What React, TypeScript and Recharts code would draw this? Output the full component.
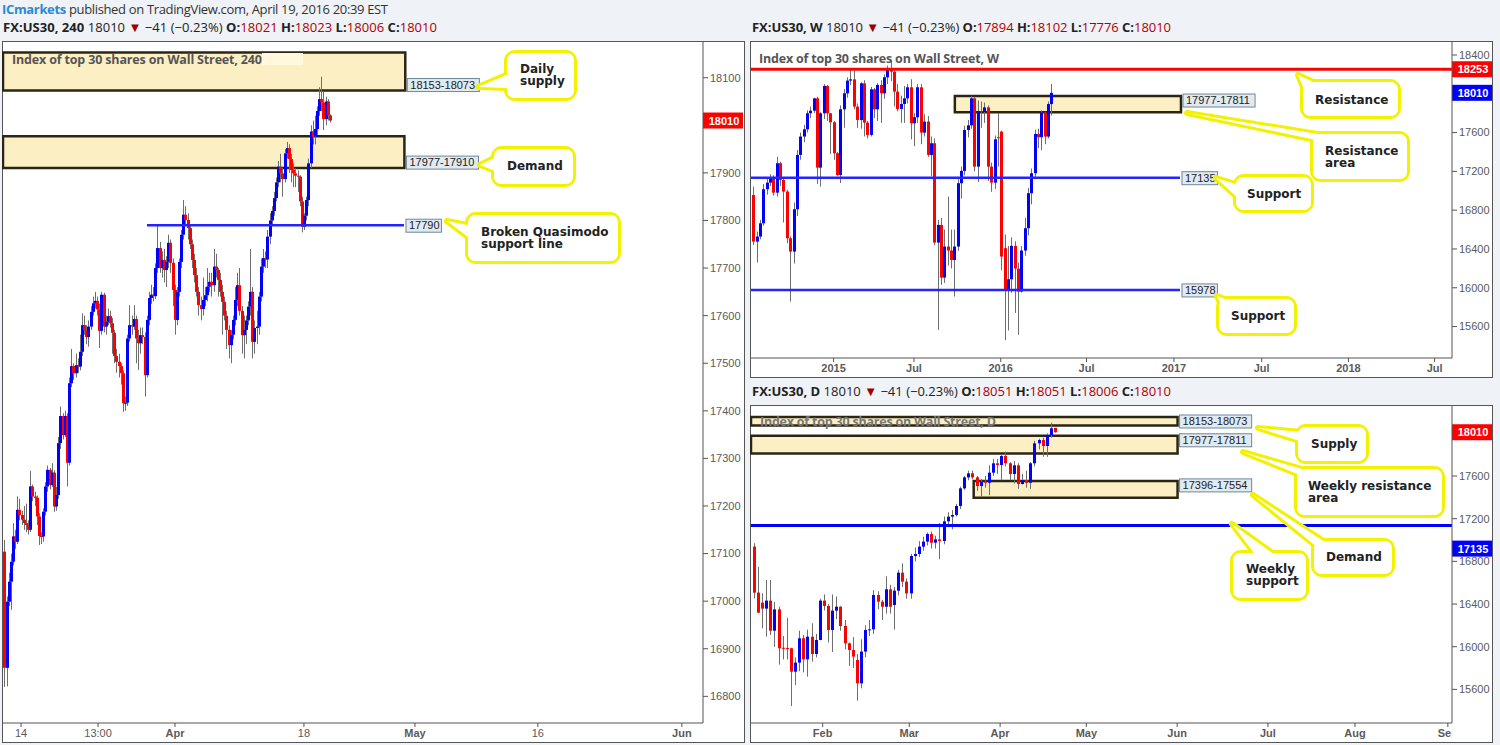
import React from 'react';
import { ComposedChart, Bar, XAxis, YAxis, ReferenceArea, ReferenceLine } from 'recharts';

// candles are [open, high, low, close]
const h4Candles = [
  [17104, 17129, 16820, 16860], [16860, 17010, 16821, 16999], [16999, 17060, 16990, 17041], [17041, 17100, 16982, 17083],
  [17083, 17164, 17075, 17136], [17136, 17150, 17110, 17125], [17125, 17220, 17120, 17192], [17192, 17215, 17170, 17181],
  [17181, 17190, 17160, 17171], [17171, 17200, 17150, 17164], [17164, 17205, 17145, 17160], [17160, 17170, 17140, 17150],
  [17150, 17274, 17145, 17241], [17241, 17245, 17210, 17220], [17220, 17230, 17200, 17217], [17217, 17222, 17160, 17178],
  [17178, 17185, 17118, 17137], [17137, 17145, 17120, 17136], [17136, 17195, 17125, 17188], [17188, 17250, 17180, 17241],
  [17241, 17285, 17230, 17276], [17276, 17280, 17235, 17244], [17244, 17290, 17240, 17270], [17270, 17275, 17188, 17199],
  [17199, 17240, 17190, 17223], [17223, 17345, 17215, 17332], [17332, 17409, 17320, 17389], [17389, 17395, 17340, 17349],
  [17349, 17400, 17345, 17389], [17389, 17395, 17241, 17291], [17291, 17470, 17285, 17458], [17458, 17530, 17450, 17494],
  [17494, 17500, 17465, 17479], [17479, 17520, 17470, 17496], [17496, 17510, 17480, 17493], [17493, 17560, 17485, 17524],
  [17524, 17605, 17515, 17580], [17580, 17600, 17560, 17570], [17570, 17580, 17540, 17555], [17555, 17590, 17535, 17577],
  [17577, 17620, 17570, 17608], [17608, 17640, 17600, 17626], [17626, 17650, 17615, 17631], [17631, 17640, 17600, 17613],
  [17613, 17625, 17532, 17568], [17568, 17650, 17560, 17644], [17644, 17648, 17565, 17577], [17577, 17600, 17560, 17587],
  [17587, 17615, 17580, 17599], [17599, 17610, 17575, 17584], [17584, 17595, 17520, 17564], [17564, 17570, 17500, 17515],
  [17515, 17530, 17480, 17503], [17503, 17520, 17470, 17494], [17494, 17500, 17455, 17479], [17479, 17485, 17398, 17416],
  [17416, 17430, 17400, 17417], [17417, 17560, 17410, 17552], [17552, 17622, 17545, 17580], [17580, 17600, 17560, 17577],
  [17577, 17622, 17570, 17593], [17593, 17600, 17500, 17552], [17552, 17570, 17486, 17542], [17542, 17575, 17520, 17559],
  [17559, 17575, 17540, 17555], [17555, 17565, 17430, 17475], [17475, 17600, 17470, 17591], [17591, 17650, 17580, 17637],
  [17637, 17665, 17625, 17644], [17644, 17660, 17630, 17641], [17641, 17710, 17635, 17700], [17700, 17790, 17690, 17742],
  [17742, 17755, 17690, 17700], [17700, 17735, 17680, 17717], [17717, 17740, 17670, 17696], [17696, 17725, 17660, 17713],
  [17713, 17770, 17700, 17753], [17753, 17760, 17690, 17711], [17711, 17720, 17620, 17654], [17654, 17665, 17560, 17591],
  [17591, 17660, 17580, 17650], [17650, 17720, 17640, 17713], [17713, 17780, 17700, 17770], [17770, 17843, 17760, 17812],
  [17812, 17830, 17790, 17801], [17801, 17815, 17760, 17784], [17784, 17790, 17740, 17750], [17750, 17760, 17700, 17717],
  [17717, 17730, 17670, 17685], [17685, 17700, 17640, 17650], [17650, 17660, 17600, 17622], [17622, 17640, 17590, 17614],
  [17614, 17680, 17600, 17633], [17633, 17660, 17620, 17643], [17643, 17700, 17630, 17661], [17661, 17690, 17650, 17671],
  [17671, 17690, 17640, 17664], [17664, 17740, 17650, 17703], [17703, 17730, 17680, 17696], [17696, 17700, 17640, 17675],
  [17675, 17690, 17640, 17650], [17650, 17665, 17560, 17629], [17629, 17640, 17590, 17600], [17600, 17610, 17530, 17570],
  [17570, 17580, 17510, 17538], [17538, 17570, 17500, 17560], [17560, 17600, 17550, 17591], [17591, 17660, 17580, 17633],
  [17633, 17690, 17620, 17664], [17664, 17700, 17600, 17610], [17610, 17620, 17520, 17559], [17559, 17600, 17510, 17570],
  [17570, 17600, 17540, 17590], [17590, 17630, 17580, 17619], [17619, 17740, 17600, 17650], [17650, 17660, 17510, 17545],
  [17545, 17590, 17520, 17574], [17574, 17610, 17540, 17577], [17577, 17650, 17560, 17640], [17640, 17720, 17630, 17703],
  [17703, 17740, 17690, 17721], [17721, 17735, 17700, 17718], [17718, 17780, 17700, 17766], [17766, 17815, 17750, 17800],
  [17800, 17830, 17790, 17820], [17820, 17860, 17810, 17847], [17847, 17890, 17840, 17880], [17880, 17925, 17870, 17913],
  [17913, 17940, 17880, 17899], [17899, 17910, 17850, 17887], [17887, 17950, 17880, 17941], [17941, 17965, 17930, 17952],
  [17952, 17960, 17900, 17929], [17929, 17940, 17880, 17906], [17906, 17920, 17870, 17899], [17899, 17910, 17870, 17894],
  [17894, 17905, 17860, 17892], [17892, 17895, 17830, 17840], [17840, 17850, 17775, 17787], [17787, 17815, 17780, 17810],
  [17810, 17850, 17800, 17843], [17843, 17930, 17830, 17920], [17920, 18000, 17910, 17987], [17987, 18010, 17960, 17976],
  [17976, 18020, 17960, 17992], [17992, 18040, 17980, 18030], [18030, 18080, 18020, 18055], [18055, 18102, 18030, 18048],
  [18048, 18070, 17990, 18013], [18013, 18060, 18000, 18050], [18050, 18055, 18010, 18021], [18021, 18023, 18006, 18010],
];

const weeklyCandles = [
  [16957, 17043, 16442, 16476], [16476, 16579, 16260, 16528], [16528, 16700, 16500, 16665], [16665, 17070, 16640, 17016],
  [17016, 17130, 16960, 17084], [17084, 17170, 17050, 17139], [17139, 17160, 16950, 16981], [16981, 17350, 16940, 17284],
  [17284, 17300, 17050, 17112], [17112, 17140, 16672, 16992], [16992, 17010, 16460, 16511], [16511, 16530, 15858, 16373],
  [16373, 16880, 16250, 16810], [16810, 17420, 16740, 17370], [17370, 17600, 17320, 17559], [17559, 17680, 17500, 17634],
  [17634, 17830, 17600, 17799], [17799, 17870, 17750, 17826], [17826, 17960, 17800, 17953], [17953, 17970, 17070, 17239],
  [17239, 17810, 17043, 17799], [17799, 18100, 17740, 18081], [18081, 18090, 17720, 17799], [17799, 17800, 17380, 17706],
  [17706, 17720, 17320, 17387], [17387, 17400, 17150, 17163], [17163, 17880, 17080, 17840], [17840, 18050, 17650, 18005],
  [18005, 18170, 17960, 18136], [18136, 18250, 18090, 18149], [18149, 18240, 17840, 17868], [17868, 17900, 17650, 17730],
  [17730, 18120, 17640, 18108], [18108, 18140, 17560, 17703], [17703, 17720, 17540, 17576], [17576, 18070, 17560, 18046],
  [18046, 18060, 17750, 17840], [17840, 18110, 17720, 18091], [18091, 18140, 17700, 18005], [18005, 18200, 17950, 18170],
  [18170, 18290, 18100, 18263], [18263, 18350, 18130, 18228], [18228, 18240, 17870, 18022], [18022, 18100, 17820, 17844],
  [17844, 17980, 17700, 17895], [17895, 18080, 17700, 17953], [17953, 18100, 17900, 18067], [18067, 18150, 17530, 17696],
  [17696, 17800, 17460, 17758], [17758, 18100, 17700, 18067], [18067, 18100, 17480, 17600], [17600, 17790, 17560, 17713],
  [17713, 17770, 17350, 17370], [17370, 17560, 17150, 17490], [17490, 17540, 16440, 16466], [16466, 16700, 15566, 16648],
  [16648, 16720, 16030, 16105], [16105, 16600, 16050, 16425], [16425, 16940, 16230, 16384], [16384, 16600, 16200, 16287],
  [16287, 16600, 15910, 16425], [16425, 17120, 16380, 17078], [17078, 17250, 16920, 17205], [17205, 17670, 17160, 17627],
  [17627, 17730, 17550, 17675], [17675, 17980, 17640, 17953], [17953, 17970, 17200, 17249], [17249, 17930, 17090, 17823],
  [17823, 17920, 17650, 17813], [17813, 17910, 17700, 17860], [17860, 17880, 17100, 17249], [17249, 17290, 16990, 17084],
  [17084, 17570, 17020, 17531], [17552, 17800, 17250, 17548], [17610, 17620, 16180, 16322], [16408, 16550, 15460, 15985],
  [15985, 16430, 15560, 16088], [16088, 16520, 15950, 16432], [16432, 16480, 15740, 16198], [16198, 16260, 15515, 15961],
  [15961, 16430, 15950, 16384], [16384, 16720, 16330, 16614], [16614, 17030, 16540, 16975], [16975, 17230, 16860, 17181],
  [17181, 17630, 17130, 17586], [17586, 17640, 17440, 17552], [17552, 17830, 17420, 17806], [17806, 17810, 17480, 17559],
  [17559, 17920, 17540, 17894], [17894, 18102, 17776, 18010],
];

const dailyCandles = [
  [16938, 16970, 16453, 16507], [16507, 16750, 16313, 16319], [16413, 16500, 16172, 16357], [16357, 16625, 16094, 16432],
  [16432, 16625, 16110, 16150], [16150, 16420, 16000, 16350], [16350, 16375, 15832, 15985], [15990, 16100, 15880, 15982],
  [15988, 16270, 15880, 15980], [15985, 15990, 15444, 15766], [15766, 15900, 15640, 15851], [15851, 16150, 15770, 16079],
  [16079, 16110, 15760, 15882], [15882, 16160, 15720, 16094], [16094, 16220, 15860, 15932], [15932, 16120, 15900, 16063],
  [16063, 16450, 16060, 16432], [16432, 16490, 16340, 16382], [16382, 16400, 16040, 16157], [16157, 16490, 15950, 16338],
  [16338, 16470, 16260, 16375], [16375, 16380, 16150, 16194], [16194, 16250, 15975, 16032], [16032, 16040, 15820, 15969],
  [15969, 16090, 15800, 15907], [15876, 15930, 15494, 15657], [15657, 16070, 15610, 15954], [15954, 16200, 15900, 16157],
  [16157, 16250, 16100, 16163], [16163, 16530, 16120, 16485], [16485, 16520, 16350, 16422], [16422, 16440, 16250, 16375],
  [16375, 16660, 16310, 16538], [16538, 16580, 16310, 16375], [16391, 16560, 16160, 16525], [16525, 16720, 16480, 16694],
  [16694, 16780, 16560, 16610], [16610, 16640, 16450, 16500], [16500, 16870, 16450, 16850], [16850, 16930, 16800, 16869],
  [16869, 16990, 16840, 16938], [16938, 17030, 16900, 16985], [16985, 17070, 16950, 17056], [17056, 17080, 16920, 16975],
  [16975, 17040, 16920, 17006], [17006, 17160, 16820, 16991], [16991, 17220, 16960, 17175], [17175, 17260, 17130, 17219],
  [17219, 17280, 17100, 17235], [17235, 17340, 17220, 17319], [17319, 17500, 17290, 17484], [17484, 17600, 17470, 17587],
  [17587, 17650, 17560, 17625], [17625, 17650, 17570, 17587], [17587, 17600, 17460, 17506], [17506, 17570, 17400, 17547],
  [17547, 17600, 17490, 17537], [17537, 17700, 17420, 17631], [17631, 17760, 17600, 17719], [17719, 17760, 17620, 17703],
  [17703, 17800, 17560, 17787], [17787, 17830, 17690, 17719], [17719, 17730, 17560, 17619], [17619, 17740, 17530, 17700],
  [17700, 17720, 17480, 17525], [17525, 17620, 17520, 17562], [17562, 17650, 17490, 17537], [17537, 17730, 17480, 17719],
  [17719, 17930, 17690, 17906], [17906, 17950, 17850, 17937], [17937, 17960, 17780, 17881], [17881, 18000, 17780, 17984],
  [17984, 18100, 17960, 18047], [18051, 18051, 18006, 18010],
];

// time ticks are in bar-index units
const h4TimeTicks = [7.7, 43.4, 79.1, 138.9, 190.4, 247.4, 314.2];
const h4TimeLabels = ['14', '13:00', 'Apr', '18', 'May', '16', 'Jun'];
const h4PriceTicks = [16800, 16900, 17000, 17100, 17200, 17300, 17400, 17500, 17600, 17700, 17800, 17900, 18100];

const weeklyTimeTicks = [23.9, 47.9, 73.8, 99.4, 125.5, 151.7, 177.6, 203.3];
const weeklyTimeLabels = ['2015', 'Jul', '2016', 'Jul', '2017', 'Jul', '2018', 'Jul'];
const weeklyPriceTicks = [15600, 16000, 16400, 16800, 17200, 17600, 18400];

const dailyTimeTicks = [16.8, 37.8, 59.8, 80.7, 102.7, 124.7, 145.8, 168.3];
const dailyTimeLabels = ['Feb', 'Mar', 'Apr', 'May', 'Jun', 'Jul', 'Aug', 'Sep'];
const dailyPriceTicks = [15600, 16000, 16400, 16800, 17200, 17600];

const h4Zones = [
  { hi: 18153, lo: 18073, from: -0.69, to: 185.9, tag: '18153-18073' },
  { hi: 17977, lo: 17910, from: -0.69, to: 185.5, tag: '17977-17910' },
];
const h4Levels = [{ value: 17790, from: 66.1, to: 185.3, tag: '17790' }];

const weeklyZones = [{ hi: 17977, lo: 17811, from: 60.1, to: 127.6, tag: '17977-17811' }];
const weeklyLevels = [
  { value: 17135, from: -0.75, to: 127.3, tag: '17135' },
  { value: 15978, from: -0.75, to: 127.3, tag: '15978' },
];

const dailyZones = [
  { hi: 18153, lo: 18073, from: -0.56, to: 102.8, tag: '18153-18073' },
  { hi: 17977, lo: 17811, from: -0.56, to: 102.8, tag: '17977-17811' },
  { hi: 17554, lo: 17396, from: 53.4, to: 102.8, tag: '17396-17554' },
];

const FONT_AXIS = '"Liberation Sans", Arial, sans-serif';
const FONT_UI = '"Open Sans", "Liberation Sans", sans-serif';
const FONT_NOTE = '"DejaVu Sans", Verdana, sans-serif';

function CandleShape(props: any) {
  const { x, y, width, height, payload, bodyW } = props;
  if (x == null || !payload) return null;
  const top = Math.min(y, y + height);
  const span = Math.abs(height);
  const { o, h, l, c } = payload;
  const range = h - l || 1;
  const py = (v: number) => top + ((h - v) / range) * span;
  const cx = Math.round(x + width / 2) + 0.5;
  const b1 = py(Math.max(o, c));
  const b2 = py(Math.min(o, c));
  return (
    <g>
      <line x1={cx} x2={cx} y1={top} y2={top + span} stroke="#6e6e6e" strokeWidth={1} />
      <rect x={cx - bodyW / 2} y={b1} width={bodyW} height={Math.max(b2 - b1, 1)} fill={c >= o ? '#0000ff' : '#ff0000'} />
    </g>
  );
}

function TimeTick(props: any) {
  const { x, y, payload, ticks, labels, clipAt } = props;
  const k = ticks.indexOf(payload.value);
  const label = k >= 0 ? labels[k] : '';
  const bold = /^[A-Z]|^\d{4}$/.test(label);
  const t = (
    <text x={x} y={y} dy="0.71em" textAnchor="middle" fontSize={11} fontFamily={FONT_AXIS}
      fontWeight={bold ? 'bold' : 'normal'} fill="#5a5a5a">{label}</text>
  );
  if (clipAt == null) return t;
  return <svg x={0} y={0} width={clipAt} height={2000} overflow="hidden">{t}</svg>;
}

function Tag({ x, y, text }: any) {
  const w = text.length * 6.1 + 5;
  return (
    <g>
      <rect x={x} y={y} width={w} height={13} fill="#e1eaf1" stroke="#6f8799" strokeWidth={1} />
      <text x={x + 3} y={y + 10} fontSize={11} fontFamily={FONT_AXIS} fill="#222">{text}</text>
    </g>
  );
}

function Badge({ viewBox, text, bg, shift = 0 }: any) {
  if (!viewBox) return null;
  const x = viewBox.x + viewBox.width;
  const y = viewBox.y + shift;
  return (
    <g>
      <rect x={x} y={y - 8} width={40} height={16} fill={bg} />
      <text x={x + 21} y={y + 4} textAnchor="middle" fontSize={11} fontWeight="bold" fontFamily={FONT_AXIS} fill="#fff">{text}</text>
    </g>
  );
}

function CandleChart({ cfg }: any) {
  const data = cfg.candles.map(([o, h, l, c]: number[], i: number) => ({ i, o, h, l, c }));
  return (
    <div style={{ position: 'absolute', left: cfg.left, top: cfg.top, width: cfg.width, height: cfg.height }}>
      <ComposedChart width={cfg.width} height={cfg.height} data={data} margin={{ top: 1, right: 1, bottom: 0, left: 1 }}>
        <XAxis type="number" dataKey="i" domain={cfg.xDomain} ticks={cfg.xTicks} interval={0} allowDataOverflow
          height={19} tickSize={4} tickMargin={2} axisLine={{ stroke: '#555' }} tickLine={{ stroke: '#555' }}
          tick={(p: any) => <TimeTick {...p} ticks={cfg.xTicks} labels={cfg.xLabels} clipAt={cfg.clipAt} />} />
        <YAxis orientation="right" type="number" domain={cfg.yDomain} ticks={cfg.yTicks} interval={0} allowDataOverflow
          width={cfg.yWidth} tickSize={5} tickMargin={2} axisLine={{ stroke: '#555' }} tickLine={{ stroke: '#555' }}
          tick={{ fontSize: 11, fill: '#5a5a5a', fontFamily: FONT_AXIS }} />
        {cfg.zones.map((z: any) => (
          <ReferenceArea key={z.tag} x1={z.from} x2={z.to} y1={z.lo} y2={z.hi} ifOverflow="visible"
            fill="#fdefc4" fillOpacity={1} stroke="#2b2614" strokeWidth={2.5}
            label={(p: any) => p.viewBox ? (
              <Tag x={p.viewBox.x + p.viewBox.width + 2}
                y={cfg.tagBottom ? p.viewBox.y + p.viewBox.height - 12 : p.viewBox.y - 2} text={z.tag} />
            ) : null} />
        ))}
        {cfg.levels.map((lv: any) => (
          <ReferenceLine key={lv.tag} segment={[{ x: lv.from, y: lv.value }, { x: lv.to, y: lv.value }]}
            ifOverflow="visible" stroke="#2424ff" strokeWidth={2.5}
            label={(p: any) => p.viewBox ? <Tag x={p.viewBox.x + p.viewBox.width + 2} y={p.viewBox.y - 6} text={lv.tag} /> : null} />
        ))}
        {cfg.fullLines.map((fl: any) => (
          <ReferenceLine key={'f' + fl.value} y={fl.value} stroke={fl.color} strokeWidth={3} ifOverflow="visible"
            label={(p: any) => <Badge viewBox={p.viewBox} text={String(fl.value)} bg={fl.color} shift={fl.shift || 0} />} />
        ))}
        <Bar dataKey={(d: any) => [d.l, d.h]} barSize={cfg.bodyW} isAnimationActive={false}
          shape={(p: any) => <CandleShape {...p} bodyW={cfg.bodyW} />} />
        {cfg.badges.map((b: any) => (
          <ReferenceLine key={'b' + b.value + b.color} y={b.value} stroke="none" ifOverflow="visible"
            label={(p: any) => <Badge viewBox={p.viewBox} text={String(b.value)} bg={b.color} />} />
        ))}
      </ComposedChart>
    </div>
  );
}

const panels = [
  {
    left: 2, top: 41, width: 743, height: 701, yWidth: 41, bodyW: 3, tagBottom: true,
    candles: h4Candles, xDomain: [-0.69, 324], yDomain: [16744, 18175],
    xTicks: h4TimeTicks, xLabels: h4TimeLabels, yTicks: h4PriceTicks,
    zones: h4Zones, levels: h4Levels, fullLines: [], badges: [{ value: 18010, color: '#ff0000' }],
  },
  {
    left: 750, top: 41, width: 743, height: 336, yWidth: 40, bodyW: 3, tagBottom: false,
    candles: weeklyCandles, xDomain: [-0.75, 208.5], yDomain: [15276, 18534],
    xTicks: weeklyTimeTicks, xLabels: weeklyTimeLabels, yTicks: weeklyPriceTicks,
    zones: weeklyZones, levels: weeklyLevels,
    fullLines: [{ value: 18253, color: '#ff0000' }], badges: [{ value: 18010, color: '#0000ff' }],
  },
  {
    left: 750, top: 405, width: 743, height: 337, yWidth: 40, bodyW: 3, tagBottom: false, clipAt: 702,
    candles: dailyCandles, xDomain: [-0.56, 169.3], yDomain: [15285, 18256],
    xTicks: dailyTimeTicks, xLabels: dailyTimeLabels, yTicks: dailyPriceTicks,
    zones: dailyZones, levels: [],
    fullLines: [{ value: 17135, color: '#0000ff', shift: 23 }], badges: [{ value: 18010, color: '#ff0000' }],
  },
];

const callouts = [
  { x: 507, y: 53, w: 67, h: 45, tip: [478, 87], base: [[511, 73], [511, 88]], lines: ['Daily', 'supply'], tx: 520, ty: 73 },
  { x: 494, y: 149, w: 79, h: 35, tip: [480, 165], base: [[498, 156], [498, 172]], lines: ['Demand'], tx: 507, ty: 170 },
  { x: 468, y: 215, w: 150, h: 46, tip: [447, 221], base: [[472, 226], [472, 240]], lines: ['Broken Quasimodo', 'support line'], tx: 481, ty: 235.5 },
  { x: 1303, y: 82, w: 95, h: 34, tip: [1298, 75], base: [[1307, 96], [1320, 85]], lines: ['Resistance'], tx: 1315, ty: 103.5 },
  { x: 1313, y: 134, w: 94, h: 45, tip: [1187, 113], base: [[1316, 140], [1330, 136]], lines: ['Resistance', 'area'], tx: 1325, ty: 154.5 },
  { x: 1236, y: 177, w: 75, h: 33, tip: [1216, 178], base: [[1239, 185], [1239, 199]], lines: ['Support'], tx: 1247, ty: 197.5 },
  { x: 1219, y: 299, w: 75, h: 34, tip: [1217, 296], base: [[1222, 307], [1233, 302]], lines: ['Support'], tx: 1231, ty: 320 },
  { x: 1298, y: 427, w: 68, h: 34, tip: [1258, 428], base: [[1301, 432], [1303, 442]], lines: ['Supply'], tx: 1311, ty: 447.5 },
  { x: 1297, y: 469, w: 145, h: 46, tip: [1243, 452], base: [[1300, 475], [1312, 472]], lines: ['Weekly resistance', 'area'], tx: 1308, ty: 489.5 },
  { x: 1314, y: 541, w: 78, h: 33, tip: [1253, 495], base: [[1317, 547], [1328, 544]], lines: ['Demand'], tx: 1326, ty: 561 },
  { x: 1233, y: 553, w: 73, h: 45, tip: [1232, 524], base: [[1257, 557], [1278, 557]], lines: ['Weekly', 'support'], tx: 1246, ty: 573 },
];

function Callout({ c }: any) {
  const pts = [c.tip, c.base[0], c.base[1]].map((p: number[]) => p.join(',')).join(' ');
  return (
    <g>
      <polygon points={pts} fill="#ffff00" stroke="#f2f200" strokeWidth={6} strokeLinejoin="round" />
      <rect x={c.x} y={c.y} width={c.w} height={c.h} rx={8} fill="#ffff00" stroke="#f2f200" strokeWidth={6} />
      <polygon points={pts} fill="#fff" />
      <rect x={c.x} y={c.y} width={c.w} height={c.h} rx={7} fill="#fff" />
      {c.lines.map((t: string, i: number) => (
        <text key={t} x={c.tx} y={c.ty + i * 12} fontSize={12} fontWeight="bold" fontFamily={FONT_NOTE} fill="#222">{t}</text>
      ))}
    </g>
  );
}

function Quote({ x, y, width, name, o, h, l, c }: any) {
  return (
    <text x={x} y={y} fontSize={13} fontFamily={FONT_UI} fill="#222" textLength={width} lengthAdjust="spacing">
      <tspan fontWeight="bold">{name}</tspan>
      <tspan> 18010 </tspan>
      <tspan fill="#a00000">▼</tspan>
      <tspan> −41 (−0.23%) </tspan>
      <tspan fontWeight="bold">O:</tspan><tspan fill="#b00000">{o} </tspan>
      <tspan fontWeight="bold">H:</tspan><tspan fill="#b00000">{h} </tspan>
      <tspan fontWeight="bold">L:</tspan><tspan fill="#b00000">{l} </tspan>
      <tspan fontWeight="bold">C:</tspan><tspan fill="#b00000">{c}</tspan>
    </text>
  );
}

export default function App() {
  return (
    <div style={{ position: 'absolute', left: 0, top: 0, width: 1500, height: 745, background: '#eff2f6', overflow: 'hidden' }}>
      {panels.map((p, i) => (
        <div key={'bg' + i} style={{ position: 'absolute', left: p.left, top: p.top, width: p.width, height: p.height + 1,
          background: '#fff', border: '1px solid #555', boxSizing: 'border-box' }} />
      ))}
      {panels.map((p, i) => <CandleChart key={i} cfg={p} />)}
      <svg width={1500} height={745} style={{ position: 'absolute', left: 0, top: 0, pointerEvents: 'none' }}>
        <text x={2} y={14} fontSize={13} fontFamily={FONT_UI} fill="#333" textLength={386} lengthAdjust="spacing">
          <tspan fill="#2a8ad0" fontWeight="bold">ICmarkets</tspan>
          <tspan> published on TradingView.com, April 19, 2016 20:39 EST</tspan>
        </text>
        <Quote x={3} y={31.5} width={434} name="FX:US30, 240" o="18021" h="18023" l="18006" c="18010" />
        <Quote x={752} y={31.5} width={419} name="FX:US30, W" o="17894" h="18102" l="17776" c="18010" />
        <Quote x={752} y={396} width={419} name="FX:US30, D" o="18051" h="18051" l="18006" c="18010" />

        <rect x={262} y={53} width={41} height={12} fill="#fff8dc" />
        <text x={12} y={63.5} fontSize={12.5} fontWeight="bold" fontFamily={FONT_UI} fill="#555" textLength={250}>Index of top 30 shares on Wall Street, 240</text>
        <text x={759} y={62.5} fontSize={12.5} fontWeight="bold" fontFamily={FONT_UI} fill="#555" textLength={240}>Index of top 30 shares on Wall Street, W</text>
        <text x={760} y={426} fontSize={12.5} fontWeight="bold" fontFamily={FONT_UI} fill="#777" textLength={236}>Index of top 30 shares on Wall Street, D</text>

        {callouts.map((c, i) => <Callout key={i} c={c} />)}
      </svg>
    </div>
  );
}
